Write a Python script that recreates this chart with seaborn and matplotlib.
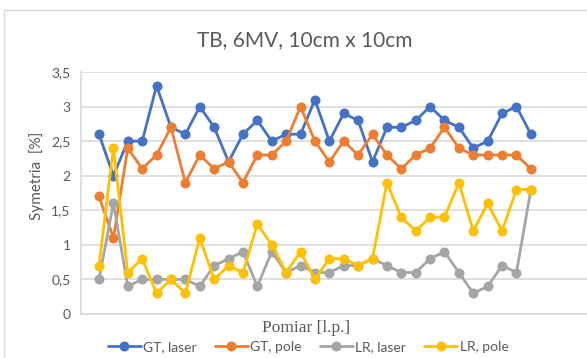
import matplotlib
matplotlib.use("Agg")
import matplotlib.pyplot as plt
import matplotlib.patches as mpatches
import matplotlib.ticker as mticker
import numpy as np
import pandas as pd
import seaborn as sns

# Measurement numbers and symmetry values [%]
pomiar = list(range(1, 32))
gt_laser = [2.6, 2.0, 2.5, 2.5, 3.3, 2.7, 2.6, 3.0, 2.7, 2.2, 2.6,
            2.8, 2.5, 2.6, 2.6, 3.1, 2.5, 2.9, 2.8, 2.2, 2.7, 2.7,
            2.8, 3.0, 2.8, 2.7, 2.4, 2.5, 2.9, 3.0, 2.6]
gt_pole = [1.7, 1.1, 2.4, 2.1, 2.3, 2.7, 1.9, 2.3, 2.1, 2.2, 1.9,
           2.3, 2.3, 2.5, 3.0, 2.5, 2.2, 2.5, 2.3, 2.6, 2.3, 2.1,
           2.3, 2.4, 2.7, 2.4, 2.3, 2.3, 2.3, 2.3, 2.1]
lr_laser = [0.5, 1.6, 0.4, 0.5, 0.5, 0.5, 0.5, 0.4, 0.7, 0.8, 0.9,
            0.4, 0.9, 0.6, 0.7, 0.6, 0.6, 0.7, 0.7, 0.8, 0.7, 0.6,
            0.6, 0.8, 0.9, 0.6, 0.3, 0.4, 0.7, 0.6, 1.8]
lr_pole = [0.7, 2.4, 0.6, 0.8, 0.3, 0.5, 0.3, 1.1, 0.5, 0.7, 0.6,
           1.3, 1.0, 0.6, 0.9, 0.5, 0.8, 0.8, 0.7, 0.8, 1.9, 1.4,
           1.2, 1.4, 1.4, 1.9, 1.2, 1.6, 1.2, 1.8, 1.8]

series_names = ["GT, laser", "GT, pole", "LR, laser", "LR, pole"]
series_values = [gt_laser, gt_pole, lr_laser, lr_pole]
colors = ["#4472C4", "#ED7D31", "#A5A5A5", "#FFC000"]
yticks = [0, 0.5, 1, 1.5, 2, 2.5, 3, 3.5]

df = pd.concat(
    [pd.DataFrame({"Pomiar": pomiar, "Symetria": v, "Seria": n})
     for n, v in zip(series_names, series_values)],
    ignore_index=True,
)

sns.set_style("white")
plt.rcParams["font.family"] = ["Lato", "DejaVu Sans"]
text_color = "#595959"
grid_color = "#D9D9D9"

fig = plt.figure(figsize=(5.87, 3.58), dpi=100)
ax = fig.add_axes([81 / 587, 44 / 358, 1 - 81 / 587, 242 / 358])

sns.lineplot(
    data=df, x="Pomiar", y="Symetria", hue="Seria",
    hue_order=series_names, palette=colors,
    marker="o", markersize=7.2, markeredgewidth=0,
    linewidth=2, ax=ax, legend=False,
)

ax.set_xlim(-0.25, 34.9)
ax.set_ylim(0, 3.5)
ax.set_yticks(yticks)
ax.yaxis.set_major_formatter(
    mticker.FuncFormatter(lambda v, _: (f"{v:g}").replace(".", ","))
)
ax.set_xticks([])
ax.grid(axis="y", color=grid_color, linewidth=1.2)
ax.set_axisbelow(True)
for s in ["top", "right"]:
    ax.spines[s].set_visible(False)
ax.spines["left"].set_color(grid_color)
ax.spines["bottom"].set_color(grid_color)
ax.spines["left"].set_linewidth(1.2)
ax.spines["bottom"].set_linewidth(1.2)
ax.tick_params(axis="y", length=4, width=1.2, color=grid_color,
               labelsize=10, labelcolor=text_color, pad=3.5)
ax.set_ylabel("")
ax.set_xlabel("")

fig.text(37 / 587, 1 - 176 / 358, "Symetria  [%]", rotation=90,
         ha="center", va="center", fontsize=11, color=text_color)
fig.text(306 / 587, 1 - 328 / 358, "Pomiar [l.p.]", ha="center", va="center",
         fontsize=12.5, color=text_color,
         family=["Liberation Serif", "DejaVu Serif"])
fig.text(305 / 587, 1 - 40 / 358, "TB, 6MV, 10cm x 10cm", ha="center",
         va="center", fontsize=15, color=text_color)

handles = [plt.Line2D([], [], color=c, marker="o", markersize=7.2,
                      markeredgewidth=0, linewidth=2) for c in colors]
fig.legend(handles, series_names, loc="center", ncol=4,
           bbox_to_anchor=(308 / 587, 1 - 347 / 358), frameon=False,
           fontsize=10, labelcolor=text_color, handlelength=2.4,
           handletextpad=0.15, columnspacing=1.3)

# Outer chart frame
fig.patches.append(mpatches.Rectangle(
    (4 / 587, -0.2), 1.2, 1.2 - 10 / 358, transform=fig.transFigure,
    fill=False, edgecolor=grid_color, linewidth=1, zorder=0))

fig.savefig("out.png", dpi=100)
